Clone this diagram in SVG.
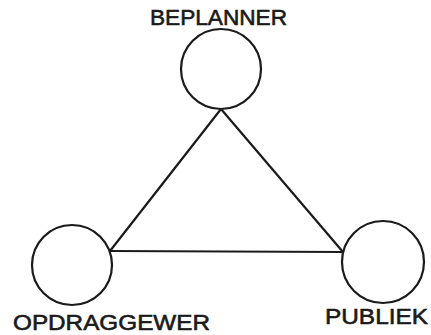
<svg xmlns="http://www.w3.org/2000/svg" width="431" height="335" viewBox="0 0 431 335">
<style>
.node{fill:#fff;stroke:#1a1a1a;stroke-width:2.2}
.edge{stroke:#1a1a1a;stroke-width:2.2;fill:none}
.lbl{font-family:"Liberation Sans",Arial,sans-serif;font-size:22px;fill:#1a1a1a;stroke:#1a1a1a;stroke-width:0.6}
</style>
<rect width="431" height="335" fill="#fff"/>
<g id="connectors">
<line class="edge" x1="221" y1="109" x2="110" y2="251"/>
<line class="edge" x1="221" y1="109" x2="343" y2="252"/>
<line class="edge" x1="110" y1="251" x2="343" y2="252"/>
</g>
<g id="beplanner">
<circle class="node" cx="221" cy="69" r="40"/>
<text class="lbl" x="150" y="25" textLength="137" lengthAdjust="spacingAndGlyphs">BEPLANNER</text>
</g>
<g id="opdraggewer">
<circle class="node" cx="72" cy="265" r="40"/>
<text class="lbl" x="13" y="330" textLength="197" lengthAdjust="spacingAndGlyphs">OPDRAGGEWER</text>
</g>
<g id="publiek">
<circle class="node" cx="383" cy="262" r="41"/>
<text class="lbl" x="325" y="324" textLength="103" lengthAdjust="spacingAndGlyphs">PUBLIEK</text>
</g>
</svg>
